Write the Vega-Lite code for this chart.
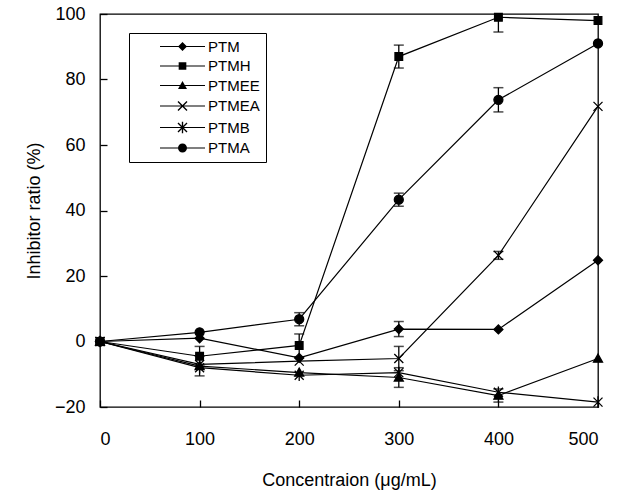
{
  "$schema": "https://vega.github.io/schema/vega-lite/v6.json",
  "width": 498,
  "height": 393,
  "autosize": {"type": "none"},
  "padding": {"left": 100, "top": 14, "right": 29, "bottom": 85},
  "background": "white",
  "config": {
    "view": {"stroke": "black", "strokeWidth": 1.3},
    "font": "Liberation Sans",
    "axis": {"grid": false, "domain": false, "tickColor": "black", "tickSize": -7, "tickWidth": 1.3,
      "labelFont": "Liberation Sans", "labelFontSize": 18, "labelColor": "black",
      "titleFont": "Liberation Sans", "titleFontSize": 18, "titleFontWeight": "normal", "titleColor": "black"}
  },
  "data": {"values": [
    {"series": "PTM", "conc": 0, "value": 0},
    {"series": "PTM", "conc": 100, "value": 1},
    {"series": "PTM", "conc": 200, "value": -5},
    {"series": "PTM", "conc": 300, "value": 3.8, "err": 2.3},
    {"series": "PTM", "conc": 400, "value": 3.7},
    {"series": "PTM", "conc": 500, "value": 24.8},
    {"series": "PTMH", "conc": 0, "value": 0},
    {"series": "PTMH", "conc": 100, "value": -4.5, "err": 3},
    {"series": "PTMH", "conc": 200, "value": -1.2, "err": 3.5},
    {"series": "PTMH", "conc": 300, "value": 87, "err": 3.5},
    {"series": "PTMH", "conc": 400, "value": 99, "err": 4.5},
    {"series": "PTMH", "conc": 500, "value": 98},
    {"series": "PTMEE", "conc": 0, "value": 0},
    {"series": "PTMEE", "conc": 100, "value": -7.5, "err": 3},
    {"series": "PTMEE", "conc": 200, "value": -9.5},
    {"series": "PTMEE", "conc": 300, "value": -11, "err": 3},
    {"series": "PTMEE", "conc": 400, "value": -16.5, "err": 2},
    {"series": "PTMEE", "conc": 500, "value": -5.2},
    {"series": "PTMEA", "conc": 0, "value": 0},
    {"series": "PTMEA", "conc": 100, "value": -7},
    {"series": "PTMEA", "conc": 200, "value": -6},
    {"series": "PTMEA", "conc": 300, "value": -5.2, "err": 3.7},
    {"series": "PTMEA", "conc": 400, "value": 26.3, "err": 1.2},
    {"series": "PTMEA", "conc": 500, "value": 71.8},
    {"series": "PTMB", "conc": 0, "value": 0},
    {"series": "PTMB", "conc": 100, "value": -8},
    {"series": "PTMB", "conc": 200, "value": -10.3},
    {"series": "PTMB", "conc": 300, "value": -9.5},
    {"series": "PTMB", "conc": 400, "value": -15.5},
    {"series": "PTMB", "conc": 500, "value": -18.5},
    {"series": "PTMA", "conc": 0, "value": 0},
    {"series": "PTMA", "conc": 100, "value": 2.8},
    {"series": "PTMA", "conc": 200, "value": 6.8, "err": 2},
    {"series": "PTMA", "conc": 300, "value": 43.3, "err": 2},
    {"series": "PTMA", "conc": 400, "value": 73.8, "err": 3.7},
    {"series": "PTMA", "conc": 500, "value": 91}
  ]},
  "encoding": {
    "x": {"field": "conc", "type": "quantitative",
      "scale": {"domain": [0, 500], "nice": false},
      "axis": {"values": [0, 100, 200, 300, 400, 500], "title": "Concentraion (μg/mL)", "labelPadding": 30, "titlePadding": 23}},
    "y": {"field": "value", "type": "quantitative",
      "scale": {"domain": [-20, 100], "nice": false},
      "axis": {"values": [-20, 0, 20, 40, 60, 80, 100], "title": "Inhibitor ratio (%)", "labelPadding": 22, "titlePadding": 11}}
  },
  "layer": [
    {
      "transform": [{"filter": "isValid(datum.err)"}],
      "mark": {"type": "errorbar", "clip": true, "ticks": {"size": 10, "thickness": 1.5, "color": "black"}, "rule": {"strokeWidth": 1.3, "color": "black"}},
      "encoding": {
        "yError": {"field": "err"},
        "detail": {"field": "series"}
      }
    },
    {
      "mark": {"type": "line", "color": "black", "strokeWidth": 1.2},
      "encoding": {"detail": {"field": "series"}, "order": {"field": "conc"}}
    },
    {
      "mark": {"type": "point", "filled": true, "fill": "black", "stroke": "black", "strokeWidth": 1.3, "size": 81, "opacity": 1},
      "encoding": {
        "shape": {"field": "series", "type": "nominal",
          "scale": {"domain": ["PTM", "PTMH", "PTMEE", "PTMEA", "PTMB", "PTMA"],
            "range": ["M0,-1L1,0L0,1L-1,0Z", "M-0.85,-0.85L0.85,-0.85L0.85,0.85L-0.85,0.85Z", "M0,-1L1,0.8L-1,0.8Z", "M-1,-1L1,1M1,-1L-1,1", "M-1,-1L1,1M1,-1L-1,1M0,-1.3L0,1.3", "M1,0A1,1,0,1,1,-1,0A1,1,0,1,1,1,0Z"]},
          "legend": null
        }
      }
    },
    {
      "mark": {"type": "point", "filled": true, "fill": "black", "size": 0, "opacity": 1},
      "encoding": {
        "shape": {"field": "series", "type": "nominal",
          "scale": {"domain": ["PTM", "PTMH", "PTMEE", "PTMEA", "PTMB", "PTMA"],
            "range": [
              "M0,-1L1,0L0,1L-1,0ZM-5,-0.13L5,-0.13L5,0.13L-5,0.13Z",
              "M-0.85,-0.85L0.85,-0.85L0.85,0.85L-0.85,0.85ZM-5,-0.13L5,-0.13L5,0.13L-5,0.13Z",
              "M0,-1L1,0.8L-1,0.8ZM-5,-0.13L5,-0.13L5,0.13L-5,0.13Z",
              "M-0.894,-1.106L1.106,0.894L0.894,1.106L-1.106,-0.894ZM1.106,-0.894L-0.894,1.106L-1.106,0.894L0.894,-1.106ZM-5,-0.13L5,-0.13L5,0.13L-5,0.13Z",
              "M-0.894,-1.106L1.106,0.894L0.894,1.106L-1.106,-0.894ZM1.106,-0.894L-0.894,1.106L-1.106,0.894L0.894,-1.106ZM-0.15,-1.3L0.15,-1.3L0.15,1.3L-0.15,1.3ZM-5,-0.13L5,-0.13L5,0.13L-5,0.13Z",
              "M1,0A1,1,0,1,1,-1,0A1,1,0,1,1,1,0ZM-5,-0.13L5,-0.13L5,0.13L-5,0.13Z"]},
          "legend": {
            "title": null, "orient": "none", "legendX": 29, "legendY": 19,
            "strokeColor": "black", "fillColor": "white", "padding": 6,
            "labelFont": "Liberation Sans", "labelFontSize": 15, "labelColor": "black",
            "labelExpr": "datum.label + '\u00a0\u00a0\u00a0\u00a0\u00a0\u00a0\u00a0\u00a0\u00a0\u00a0\u00a0\u00a0\u00a0'",
            "symbolOffset": 40, "labelOffset": 18, "rowPadding": 3.5, "symbolSize": 81
          }
        }
      }
    }
  ],
  "resolve": {"scale": {"shape": "independent"}}
}
